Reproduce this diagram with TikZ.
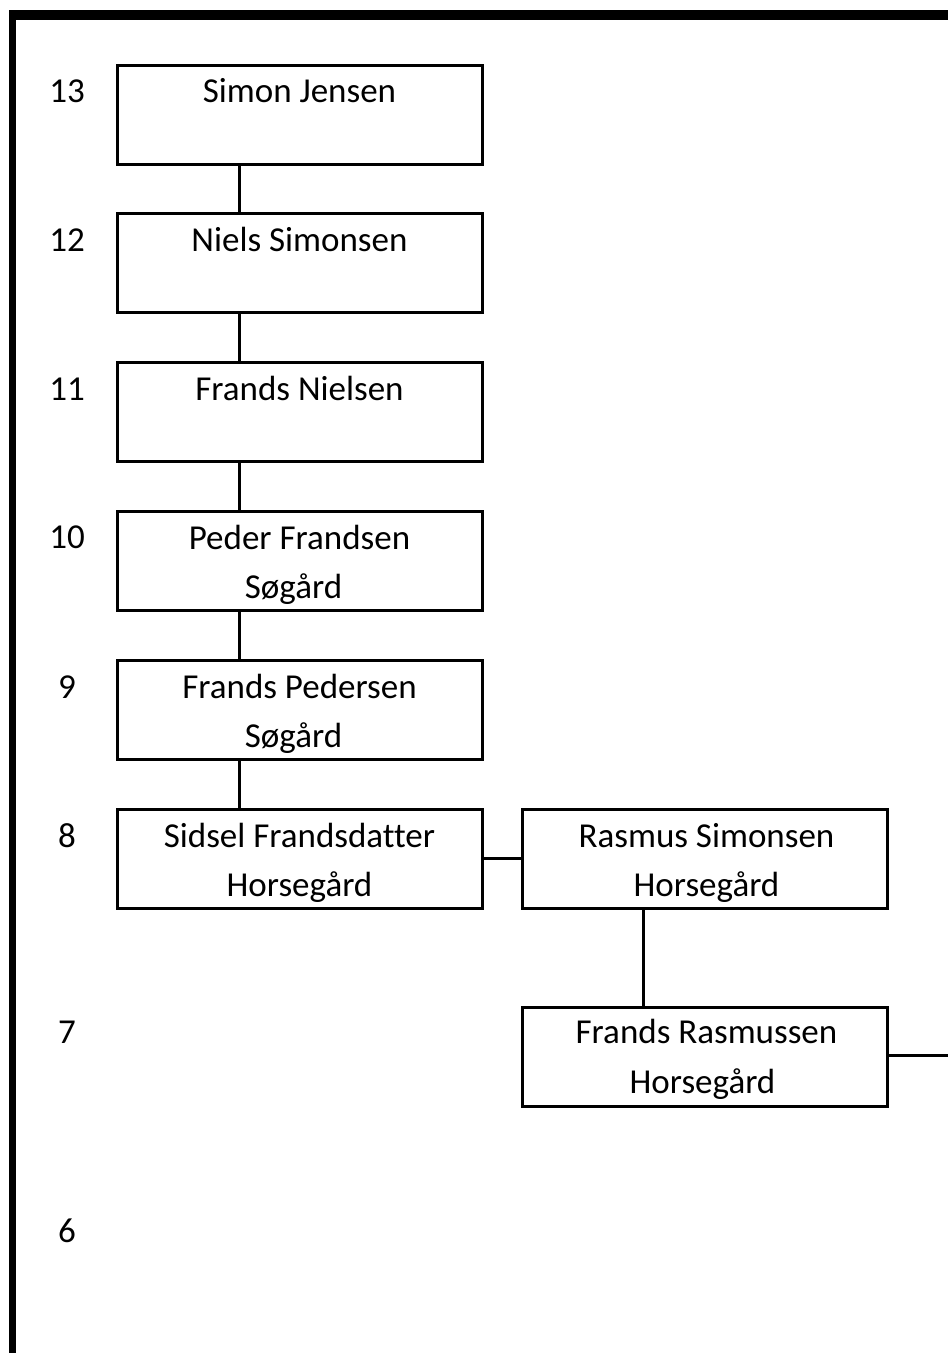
\documentclass[tikz,border=0pt]{standalone}
\usepackage{fontspec}
\setmainfont{Carlito}[Ligatures=NoCommon]
\usetikzlibrary{calc}
\begin{document}
\begin{tikzpicture}[x=1pt,y=1pt,
  box/.style={draw, line width=3pt, minimum width=365pt, minimum height=99pt, inner sep=0pt, outer sep=0pt, anchor=north west},
  txt/.style={font=\fontsize{35}{49}\selectfont, inner sep=0pt, anchor=base},
  gen/.style={font=\fontsize{35}{49}\selectfont, inner sep=0pt, anchor=base},
  link/.style={line width=3pt}]
\useasboundingbox (0,0) rectangle (948,-1353);
% frame
\fill (9,-10) rectangle (948,-20);
\fill (9,-10) rectangle (16,-1353);
% generation numbers
\foreach \n/\y in {13/102,12/251,11/400,10/548,9/698,8/847,7/1043,6/1242}
  \node[gen] (g\n) at (67,-\y) {\n};
% boxes, left column
\node[box] (b13) at (117,-65) {};
\node[box] (b12) at (117,-213) {};
\node[box] (b11) at (117,-362) {};
\node[box] (b10) at (117,-511) {};
\node[box] (b9) at (117,-660) {};
\node[box] (b8) at (117,-809) {};
% right column
\node[box] (r8) at (522,-809) {};
\node[box] (r7) at (522,-1007) {};
% texts
\node[txt] (t13) at ($(b13.north)+(0,-37)$) {Simon Jensen};
\node[txt] (t12) at ($(b12.north)+(0,-38)$) {Niels Simonsen};
\node[txt] (t11) at ($(b11.north)+(0,-38)$) {Frands Nielsen};
\node[txt] (t10a) at ($(b10.north)+(0,-38)$) {Peder Frandsen};
\node[txt] (t10b) at ($(b10.north)+(-6,-87)$) {Søgård};
\node[txt] (t9a) at ($(b9.north)+(0,-38)$) {Frands Pedersen};
\node[txt] (t9b) at ($(b9.north)+(-6,-87)$) {Søgård};
\node[txt] (t8a) at ($(b8.north)+(0,-38)$) {Sidsel Frandsdatter};
\node[txt] (t8b) at ($(b8.north)+(0,-87)$) {Horsegård};
\node[txt] (r8a) at ($(r8.north)+(2,-38)$) {Rasmus Simonsen};
\node[txt] (r8b) at ($(r8.north)+(2,-87)$) {Horsegård};
\node[txt] (r7a) at ($(r7.north)+(2,-36)$) {Frands Rasmussen};
\node[txt] (r7b) at ($(r7.north)+(-2,-86)$) {Horsegård};
% connectors
\coordinate (cx) at (239,0);
\draw[link] (b13.south -| cx) -- (b12.north -| cx);
\draw[link] (b12.south -| cx) -- (b11.north -| cx);
\draw[link] (b11.south -| cx) -- (b10.north -| cx);
\draw[link] (b10.south -| cx) -- (b9.north -| cx);
\draw[link] (b9.south -| cx) -- (b8.north -| cx);
\draw[link] (b8.east |- 0,-858) -- (r8.west |- 0,-858);
\coordinate (rx) at (643,0);
\draw[link] (r8.south -| rx) -- (r7.north -| rx);
\coordinate (edge) at (950,-1055);
\draw[link] (r7.east |- edge) -- (edge);
\end{tikzpicture}
\end{document}
